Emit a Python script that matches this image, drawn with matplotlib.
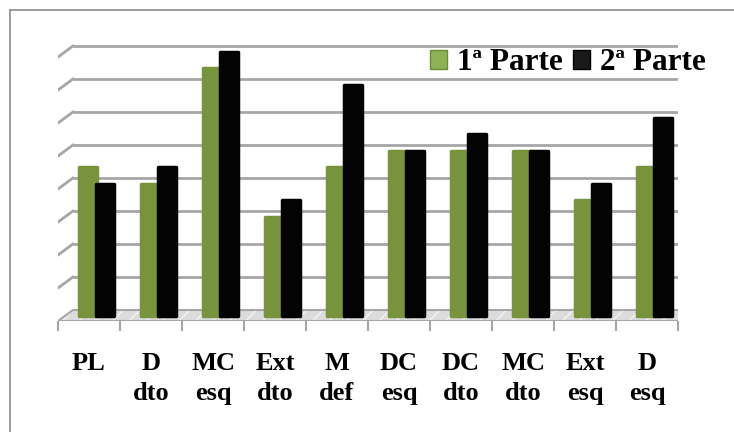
import matplotlib
matplotlib.use('Agg')
import matplotlib.pyplot as plt
from matplotlib.patches import Patch
from matplotlib.lines import Line2D
import numpy as np

# data (counts, gridline step = 2)
categories = ['PL', 'D\ndto', 'MC\nesq', 'Ext\ndto', 'M\ndef', 'DC\nesq', 'DC\ndto', 'MC\ndto', 'Ext\nesq', 'D\nesq']
parte1 = [9, 8, 15, 6, 9, 10, 10, 10, 7, 9]
parte2 = [8, 9, 16, 7, 14, 10, 11, 10, 8, 12]
grid_levels = [0, 2, 4, 6, 8, 10, 12, 14, 16]

green = '#77933C'
black = '#030303'
grey = '#a6a6a6'
font = 'Liberation Serif'

W, H = 734, 432
fig = plt.figure(figsize=(W / 100, H / 100), dpi=100)
fig.patch.set_facecolor('white')

# outer chart frame (left and top edges only are visible)
fig.add_artist(Line2D([10 / W, 10 / W], [0, 1 - 10 / H], color='#8c8c8c', lw=1.2))
fig.add_artist(Line2D([10 / W, 1], [1 - 10 / H, 1 - 10 / H], color='#8c8c8c', lw=1.2))

ax = fig.add_axes([58 / W, 111 / H, 620 / W, 311 / H])
ax.set_xlim(-0.5, 9.5)
ax.set_ylim(0, 311 / 16.5)
for s in ax.spines.values():
    s.set_visible(False)
ax.set_yticks([])

# 3D depth offsets (front plane -> back wall)
DX = 15 / 62
DY = 11 / 16.5
x = np.arange(len(categories))

# back wall gridlines and left wall diagonals
for g in grid_levels:
    ax.plot([-0.5 + DX, 9.5 + DX], [g + DY, g + DY], color=grey, lw=2, zorder=1,
            solid_capstyle='butt')
    if g > 0:
        ax.plot([-0.5, -0.5 + DX], [g, g + DY], color=grey, lw=2, zorder=1)

# floor
fx = [-0.5, -0.5 + DX, 9.5 + DX, 9.5]
fy = [0, DY, DY, 0]
ax.fill(fx, fy, facecolor='#dcdcdc', edgecolor='#f4f4f4', hatch='//', lw=0, zorder=2)
ax.fill(fx, fy, facecolor='none', edgecolor=grey, lw=1.5, zorder=2)
ax.plot([-0.5, 9.5], [-0.12, -0.12], color=grey, lw=1.5, zorder=2)

# bars
bw = 0.3
off = 0.14
ax.bar(x + DX / 2 - off, parte1, width=bw, bottom=DY / 2, color=green,
       edgecolor=green, lw=2.5, joinstyle='round', zorder=3)
ax.bar(x + DX / 2 + off, parte2, width=bw, bottom=DY / 2, color=black,
       edgecolor=black, lw=2.5, joinstyle='round', zorder=4)

# ticks and category labels
ax.set_xticks(np.arange(-0.5, 10, 1))
ax.set_xticklabels([])
ax.tick_params(axis='x', which='major', length=7, width=1.5, color=grey, direction='out')
ax.set_xticks(x, minor=True)
ax.set_xticklabels(categories, minor=True, fontfamily=font, fontweight='bold',
                   fontsize=19, linespacing=1.4)
ax.tick_params(axis='x', which='minor', length=0, pad=22)

handles = [Patch(facecolor='#8db255', edgecolor='#6b8a33'),
           Patch(facecolor='#1a1a1a', edgecolor='#000000')]
fig.legend(handles, ['1ª Parte', '2ª Parte'], loc='center left',
           bbox_to_anchor=(430 / W, 1 - 63 / H), ncol=2, frameon=False,
           prop={'family': font, 'weight': 'bold', 'size': 22.5},
           handlelength=0.55, handleheight=0.55, handletextpad=0.3,
           columnspacing=0.35, borderpad=0, borderaxespad=0)

fig.savefig('out.png', dpi=100)
